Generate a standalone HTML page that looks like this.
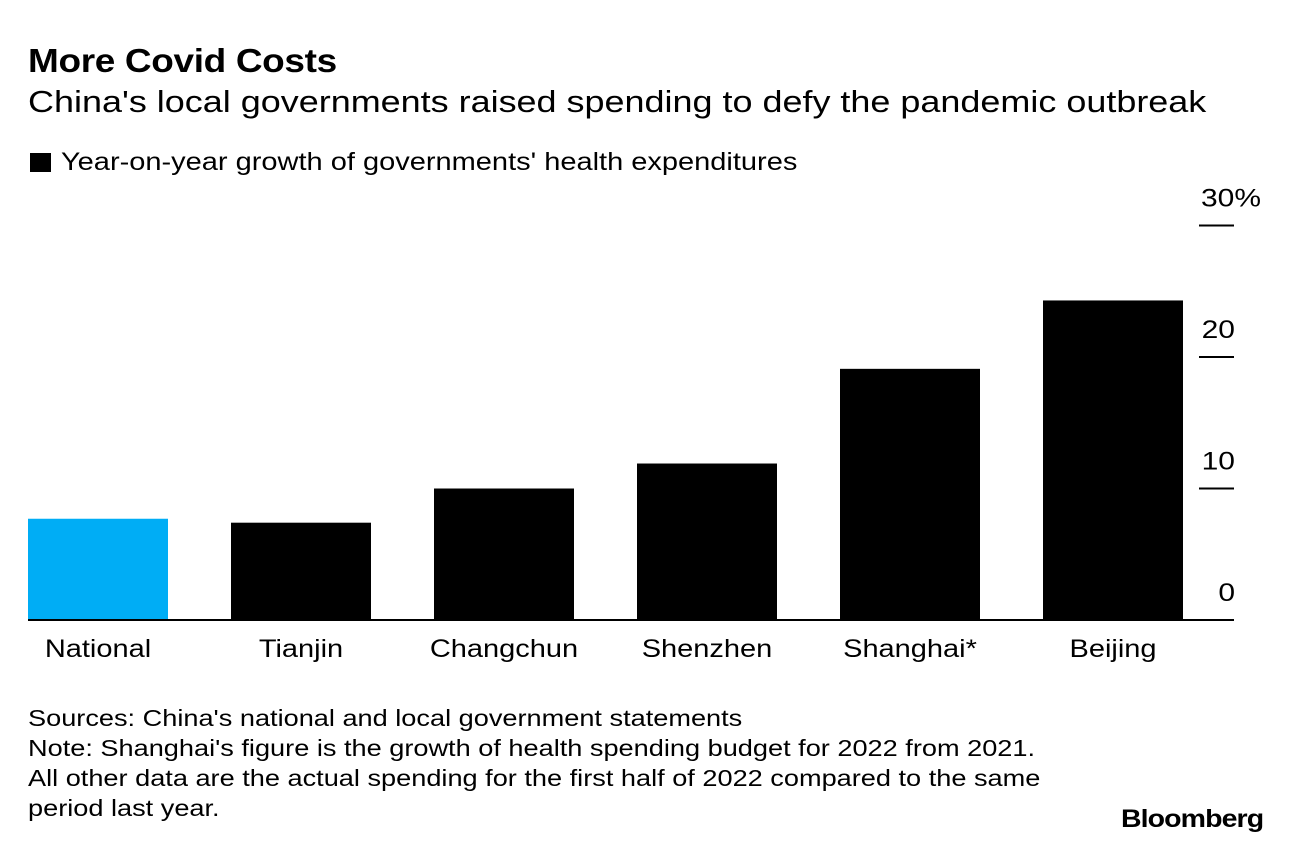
<!DOCTYPE html>
<html><head><meta charset="utf-8"><style>
body{margin:0;background:#fff;font-family:"Liberation Sans",Arial,sans-serif;}
#wrap{position:relative;width:1289px;height:846px;overflow:hidden;}
.t{position:absolute;white-space:nowrap;color:#000;transform-origin:0 0;}
</style></head><body>
<div id="wrap">
<div class="t" style="left:28px;top:42px;font-size:33px;font-weight:bold;letter-spacing:-0.3px;transform:scaleX(1.12)">More Covid Costs</div>
<div class="t" style="left:28px;top:84px;font-size:31px;transform:scaleX(1.16)">China's local governments raised spending to defy the pandemic outbreak</div>
<div class="t" style="left:30px;top:148px;font-size:25px"><span style="display:inline-block;width:21px;height:19px;background:#000;margin-right:10px;vertical-align:-2px"></span><span style="display:inline-block;transform:scaleX(1.16);transform-origin:0 0">Year-on-year growth of governments' health expenditures</span></div>
<svg id="plot" width="1289" height="846" style="position:absolute;left:0;top:0"></svg>
<div class="t" style="left:28px;top:703px;font-size:23px;line-height:30px;transform:scaleX(1.18)">Sources: China's national and local government statements<br>Note: Shanghai's figure is the growth of health spending budget for 2022 from 2021.<br>All other data are the actual spending for the first half of 2022 compared to the same<br>period last year.</div>
<div class="t" style="left:1121px;top:805px;font-size:25px;font-weight:bold;letter-spacing:-0.8px;transform:scaleX(1.14)">Bloomberg</div>
</div>
<script>
const categories=["National","Tianjin","Changchun","Shenzhen","Shanghai*","Beijing"];
const values=[7.7,7.4,10.0,11.9,19.1,24.3];
const colors=["#00adf5","#000","#000","#000","#000","#000"];
const ticks=[0,10,20,30];
const tickLabels=["0","10","20","30%"];
const svg=document.getElementById('plot');
const NS='http://www.w3.org/2000/svg';
const y0=620,pxPer=13.15;
const y=v=>y0-v*pxPer;
const x=i=>28+i*203;
const bw=140;
function mk(t,a){const e=document.createElementNS(NS,t);for(const k in a)e.setAttribute(k,a[k]);svg.appendChild(e);return e;}
categories.forEach((c,i)=>{
 const r=mk('rect',{x:x(i),y:y(values[i]),width:bw,height:y0-y(values[i]),fill:colors[i]});
 
 
 const t=mk('text',{transform:'translate('+(x(i)+bw/2)+',657) scale(1.16,1)','text-anchor':'middle','font-size':25,'font-family':'Liberation Sans, Arial, sans-serif'});
 t.textContent=c;
 
 
});
ticks.forEach((v,i)=>{
 if(v!==0){const l=mk('line',{x1:1199,x2:1234,y1:y(v),y2:y(v),stroke:'#000','stroke-width':2});
 
 }
 const t=mk('text',{transform:'translate('+(v===30?1261:1235)+','+(y(v)-19)+') scale(1.2,1)','text-anchor':'end','font-size':25,'font-family':'Liberation Sans, Arial, sans-serif'});
 t.textContent=tickLabels[i];
 
 
});
const b=mk('line',{x1:28,x2:1234,y1:y0,y2:y0,stroke:'#000','stroke-width':2});


</script>
</body></html>
